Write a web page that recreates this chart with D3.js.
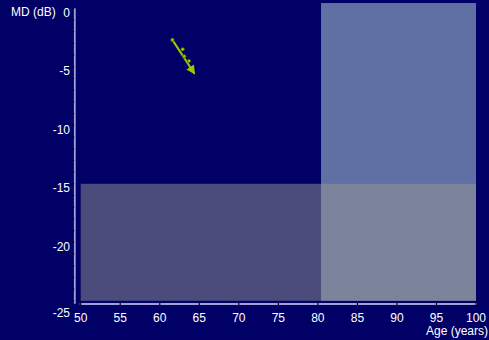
<!DOCTYPE html>
<html>
<head>
<meta charset="utf-8">
<script src="https://cdn.jsdelivr.net/npm/d3@7"></script>
<style>
  html, body { margin: 0; padding: 0; background: #000066; overflow: hidden; }
  svg { display: block; }
  text { font-family: "Liberation Sans", Arial, sans-serif; fill: #ffffff; }
</style>
</head>
<body>
<svg id="chart" width="489" height="340"></svg>
<script>
// Mean deviation (dB) measurements by age
const visitAge = [61.6, 62.9, 63.1, 63.7];
const visitMD  = [-2.7, -3.5, -4.1, -4.5];

// Progression trend: start and projected end
const trendAge = [61.6, 64.4];
const trendMD  = [-2.7, -5.6];

// Shaded risk zones: [ageFrom, ageTo, mdFrom, mdTo]
const zoneAge = [[80.4, 100], [50, 100]];
const zoneMD  = [[-25, 0.45], [-25, -15]];
const zoneFill = ["#6070a4", "#989892"];
const zoneOpacity = [1, 0.5];

const xTicks = [50, 55, 60, 65, 70, 75, 80, 85, 90, 95, 100];
const yTicks = [0, -5, -10, -15, -20, -25];
const yMinorTicks = d3.range(0, -26, -1);

const svg = d3.select("#chart");
const x = d3.scaleLinear().domain([50, 100]).range([80.7, 476]);
const y = d3.scaleLinear().domain([0, -25]).range([8.3, 300.8]);

// zones
svg.selectAll("rect.zone")
  .data(zoneAge.map((a, i) => ({ a, m: zoneMD[i], fill: zoneFill[i], op: zoneOpacity[i] })))
  .join("rect")
  .attr("class", "zone")
  .attr("x", d => x(d.a[0]))
  .attr("width", d => x(d.a[1]) - x(d.a[0]))
  .attr("y", d => y(d.m[1]))
  .attr("height", d => y(d.m[0]) - y(d.m[1]))
  .attr("fill", d => d.fill)
  .attr("fill-opacity", d => d.op);

// y axis
const axisColor = "#a0a0dc";
svg.append("line")
  .attr("x1", 74.8).attr("x2", 74.8)
  .attr("y1", y(0)).attr("y2", y(-25) + 3)
  .attr("stroke", axisColor).attr("stroke-width", 1.8);
svg.append("g").selectAll("line")
  .data(yMinorTicks).join("line")
  .attr("x1", 71.8).attr("x2", 74.2)
  .attr("y1", d => y(d)).attr("y2", d => y(d))
  .attr("stroke", "#000022").attr("stroke-width", 1.3);
svg.append("g").selectAll("text")
  .data(yTicks).join("text")
  .attr("x", 70)
  .attr("y", d => y(d) + (d === -25 ? 16 : 8.5))
  .attr("text-anchor", "end")
  .attr("font-size", 12)
  .text(d => d);

// x axis
svg.append("line")
  .attr("x1", x(50) - 1).attr("x2", x(100) + 1)
  .attr("y1", 304).attr("y2", 304)
  .attr("stroke", axisColor).attr("stroke-width", 2);
svg.append("g").selectAll("line")
  .data(xTicks).join("line")
  .attr("x1", d => x(d)).attr("x2", d => x(d))
  .attr("y1", 301.5).attr("y2", 305.5)
  .attr("stroke", "#000022").attr("stroke-width", 1.2);
svg.append("g").selectAll("text")
  .data(xTicks).join("text")
  .attr("x", d => x(d))
  .attr("y", 322)
  .attr("text-anchor", "middle")
  .attr("font-size", 12)
  .text(d => d);

// axis titles
svg.append("text").attr("x", 11).attr("y", 16).attr("font-size", 12).text("MD (dB)");
svg.append("text").attr("x", 488).attr("y", 335).attr("text-anchor", "end")
  .attr("font-size", 12).text("Age (years)");

// trend arrow
const green = "#99cc00";
svg.append("defs").append("marker")
  .attr("id", "head")
  .attr("viewBox", "0 0 10 10")
  .attr("refX", 9).attr("refY", 5)
  .attr("markerWidth", 4.5).attr("markerHeight", 4.5)
  .attr("markerUnits", "strokeWidth")
  .attr("orient", "auto")
  .append("path").attr("d", "M0,0 L10,5 L0,10 Z").attr("fill", green);

svg.append("line")
  .attr("x1", x(trendAge[0])).attr("y1", y(trendMD[0]))
  .attr("x2", x(trendAge[1])).attr("y2", y(trendMD[1]))
  .attr("stroke", green).attr("stroke-width", 2)
  .attr("marker-end", "url(#head)");

svg.append("g").selectAll("circle")
  .data(visitAge.map((a, i) => [a, visitMD[i]]))
  .join("circle")
  .attr("cx", d => x(d[0])).attr("cy", d => y(d[1]))
  .attr("r", 1.8)
  .attr("fill", green)
  .attr("stroke", "#334400").attr("stroke-width", 0.6);
</script>
</body>
</html>
